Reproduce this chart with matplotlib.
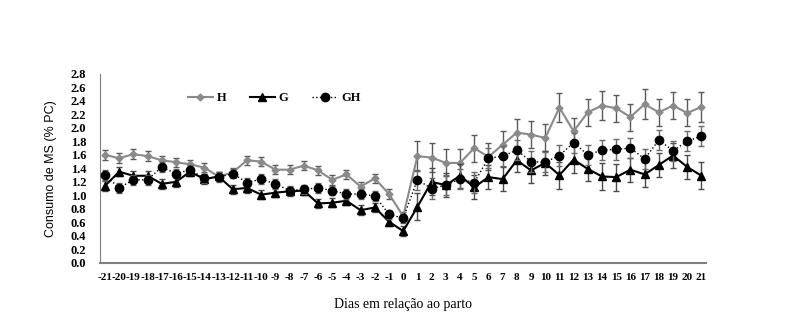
import matplotlib
matplotlib.use('Agg')
import matplotlib.pyplot as plt

# dias em relacao ao parto
days = list(range(-21, 22))

h_mean = [1.60, 1.55, 1.61, 1.58, 1.52, 1.49, 1.46, 1.41, 1.28, 1.34, 1.52,
          1.50, 1.38, 1.38, 1.44, 1.37, 1.23, 1.31, 1.13, 1.25, 1.02, 0.69,
          1.58, 1.56, 1.48, 1.48, 1.70, 1.57, 1.75, 1.93, 1.90, 1.85, 2.30,
          1.95, 2.23, 2.33, 2.29, 2.16, 2.35, 2.23, 2.33, 2.22, 2.31]
g_mean = [1.14, 1.35, 1.29, 1.29, 1.17, 1.20, 1.35, 1.24, 1.28, 1.09, 1.11,
          1.01, 1.04, 1.06, 1.07, 0.88, 0.89, 0.92, 0.78, 0.82, 0.61, 0.47,
          0.83, 1.20, 1.15, 1.29, 1.12, 1.27, 1.24, 1.52, 1.37, 1.48, 1.30,
          1.53, 1.39, 1.28, 1.27, 1.38, 1.31, 1.45, 1.59, 1.42, 1.29]
gh_mean = [1.30, 1.11, 1.23, 1.23, 1.42, 1.32, 1.38, 1.25, 1.27, 1.32, 1.19,
           1.24, 1.17, 1.07, 1.09, 1.11, 1.07, 1.02, 1.02, 0.99, 0.72, 0.66,
           1.23, 1.10, 1.15, 1.24, 1.19, 1.55, 1.58, 1.67, 1.50, 1.49, 1.59,
           1.78, 1.60, 1.67, 1.68, 1.70, 1.54, 1.82, 1.66, 1.80, 1.88]

# erro padrao
h_err = [0.07] * 21 + [0.07, 0.22, 0.22, 0.20, 0.20, 0.20, 0.20, 0.20, 0.20,
                       0.20, 0.20, 0.22, 0.20, 0.20, 0.22, 0.20, 0.20, 0.22,
                       0.20, 0.20, 0.20, 0.22]
g_err = [0.07] * 21 + [0.07, 0.20, 0.20, 0.18, 0.18, 0.18, 0.18, 0.18, 0.18,
                       0.18, 0.18, 0.20, 0.20, 0.18, 0.20, 0.20, 0.18, 0.18,
                       0.18, 0.18, 0.18, 0.20]
gh_err = [0.07] * 21 + [0.07, 0.15, 0.15, 0.15, 0.15, 0.15, 0.15, 0.15, 0.15,
                        0.15, 0.15, 0.15, 0.15, 0.15, 0.15, 0.15, 0.15, 0.15,
                        0.15, 0.15, 0.15, 0.15]

yticks = [i / 10 for i in range(0, 29, 2)]

plt.rcParams['font.family'] = ['Liberation Serif', 'DejaVu Serif']

fig = plt.figure(figsize=(8, 3.34), dpi=100)
ax = fig.add_axes([0.125, 0.213, 0.758, 0.566])

series = [
    (h_mean, h_err, 'H', dict(color='#8a8a8a', marker='D', markersize=3.5, linewidth=1.5), '#5a5a5a', 3),
    (g_mean, g_err, 'G', dict(color='black', marker='^', markersize=6, linewidth=1.5), '#4a4a4a', 4),
    (gh_mean, gh_err, 'GH', dict(color='black', marker='o', markersize=6, linewidth=1.0,
                                 linestyle=':'), '#6a6a6a', 5),
]
for mean, err, lab, style, ecol, z in series:
    ax.errorbar(days, mean, yerr=err, fmt='none', ecolor=ecol, elinewidth=1.0,
                capsize=2, capthick=1.0, zorder=z)
    ax.plot(days, mean, label=lab, zorder=z, **style)

ax.set_xlim(-21.35, 21.35)
ax.set_ylim(0, 2.8)
ax.set_xticks(days)
ax.set_xticklabels([str(d) for d in days], fontsize=8, fontweight='bold')
ax.set_yticks(yticks)
ax.set_yticklabels([f'{v:.1f}' for v in yticks], fontsize=9, fontweight='bold')
ax.tick_params(axis='y', length=0, pad=10)
ax.tick_params(axis='x', length=0, pad=7)

for side in ['top', 'right']:
    ax.spines[side].set_visible(False)
ax.spines['left'].set_color('#808080')
ax.spines['bottom'].set_color('#808080')
ax.spines['bottom'].set_linewidth(1.5)

ax.set_ylabel('Consumo de MS (% PC)', fontsize=9, family=['Liberation Sans', 'DejaVu Sans'],
              labelpad=10)
ax.set_xlabel('Dias em relação ao parto', fontsize=10, labelpad=12)

leg = ax.legend(loc='center', bbox_to_anchor=(0.287, 0.87), ncol=3, frameon=False,
                handlelength=2.0, handletextpad=0.3, columnspacing=1.9,
                prop={'weight': 'bold', 'size': 9})

fig.savefig('out.png', dpi=100)
